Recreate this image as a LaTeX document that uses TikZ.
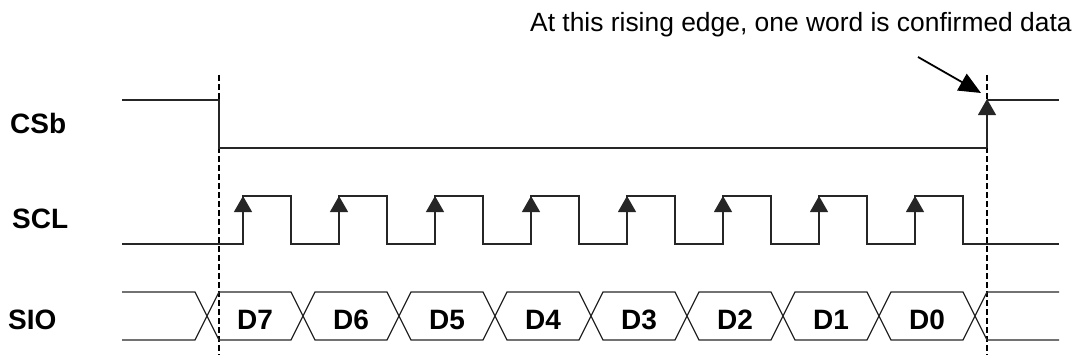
\documentclass[tikz,border=0pt]{standalone}
\usepackage{fontspec}
\setmainfont{Liberation Sans}
\usetikzlibrary{arrows.meta}
\begin{document}
\begin{tikzpicture}[x=1pt,y=-1pt,
  sig/.style={line width=1.2pt, draw=black!85, line join=miter},
  guide/.style={line width=1.1pt, draw=black, dash pattern=on 6pt off 3pt},
  edgearrow/.style={line width=1.2pt, draw=black!85, -{Triangle[length=16pt,width=18pt]}},
  lab/.style={font=\fontsize{28}{30}\selectfont\bfseries, inner sep=0pt, anchor=base west},
  dlab/.style={font=\fontsize{28}{30}\selectfont\bfseries, inner sep=0pt, anchor=base},
  notelab/.style={font=\fontsize{26.4}{30}\selectfont, inner sep=0pt, anchor=base west},
  notearrow/.style={line width=1.8pt, draw=black, -{Triangle[length=22pt,width=19pt]}}
]
\useasboundingbox (0,0) rectangle (1077,361);

% guide lines
\coordinate (g1top) at (219,75);
\coordinate (g1bot) at (219,355);
\coordinate (g2top) at (987,75);
\coordinate (g2bot) at (987,355);
\draw[guide] (g1top) -- (g1bot);
\draw[guide] (g2top) -- (g2bot);

% labels
\node[lab] (csb) at (10,133) {CSb};
\node[lab] (scl) at (12,228) {SCL};
\node[lab] (sio) at (8,329) {SIO};

% CSb
\draw[sig] (122,100) -- (219,100) -- (219,148) -- (987,148);
\draw[edgearrow] (987,148) -- (987,99);
\draw[sig] (987,100) -- (1059,100);

% SCL
\draw[sig] (122,244)
  \foreach \k in {0,...,7}{
    -- ({243+96*\k},244) -- ({243+96*\k},196) -- ({291+96*\k},196) -- ({291+96*\k},244)
  } -- (1059,244);
\foreach \k in {0,...,7}{
  \draw[edgearrow] ({243+96*\k},244) -- ({243+96*\k},196);
}

% SIO
\draw[sig] (122,292) -- (195,292) -- (207,316) -- (195,340) -- (122,340);
\draw[sig] (1059,292) -- (987,292) -- (975,316) -- (987,340) -- (1059,340);
\foreach \k [evaluate=\k as \d using {int(7-\k)}] in {0,...,7}{
  \draw[sig] ({207+96*\k},316) -- ({219+96*\k},292) -- ({291+96*\k},292) -- ({303+96*\k},316)
     -- ({291+96*\k},340) -- ({219+96*\k},340) -- cycle;
  \node[dlab] (d\d) at ({255+96*\k},329) {D\d};
}

% annotation
\node[notelab] (note) at (530,32) {At this rising edge, one word is confirmed data};
\coordinate (notestart) at (918,57);
\coordinate (notetip) at (981,93);
\draw[notearrow] (notestart) -- (notetip);
\end{tikzpicture}
\end{document}
